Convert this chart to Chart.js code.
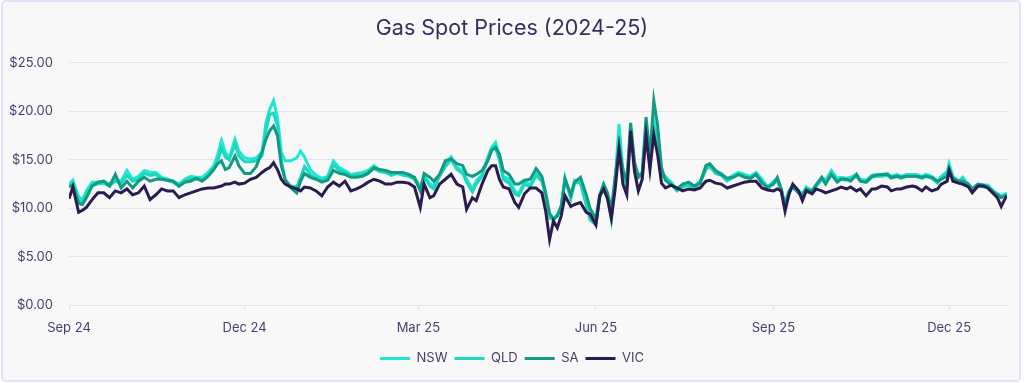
<!DOCTYPE html>
<html><head><meta charset="utf-8">
<script src="https://cdn.jsdelivr.net/npm/chart.js@4.4.1/dist/chart.umd.min.js"></script>
<style>
html,body{margin:0;padding:0;background:#ffffff;}
#frame{position:absolute;left:1px;top:0px;width:1016px;height:378px;border:2px solid #e6dff7;border-radius:5px;background:#f8f8f9;}
#wrap{position:absolute;left:0;top:0;width:1024px;height:383px;}
</style></head><body>
<div id="frame"></div>
<div id="wrap"><canvas id="c"></canvas></div>
<script>
// Day offsets from 1 Sep 2024
const days = [
0,2,5,7,9,12,15,18,21,24,27,30,33,36,39,42,45,48,51,54,57,60,63,66,69,72,75,77,79,81,83,
86,88,91,94,97,100,102,104,106,108,110,112,115,118,120,
122,125,128,131,134,137,140,143,146,149,152,155,158,161,164,167,170,173,176,179,
182,184,187,189,192,195,198,201,204,206,209,211,214,217,219,221,223,225,228,231,233,236,239,242,245,
247,249,251,253,255,257,260,262,265,268,270,273,275,277,279,281,283,285,287,289,291,293,295,297,299,301,303,305,307,309,
312,315,318,321,324,327,330,332,335,338,341,344,347,350,353,356,359,362,365,
367,369,371,373,375,378,380,382,385,387,390,392,395,398,400,403,405,408,410,413,
416,418,421,424,426,429,431,434,437,439,442,444,447,450,452,455,456,458,461,463,
466,468,471,474,476,479,481,483,485,486
];
const nsw = [
12.5,12.9,11.2,10.9,11.8,12.7,12.7,12.8,12.5,13.0,12.8,13.9,13.0,13.3,13.9,13.7,13.7,13.2,13.0,12.8,12.5,13.0,13.3,13.2,13.2,13.7,14.4,15.5,17.0,15.8,15.2,
17.1,15.9,15.2,15.1,15.2,15.8,18.8,20.2,21.1,19.4,15.8,14.9,14.9,15.2,15.9,
15.3,14.0,13.4,13.1,13.3,14.9,14.2,13.9,13.5,13.6,13.7,13.9,14.4,13.9,13.9,13.5,13.7,13.6,13.5,13.2,
12.2,13.4,12.5,12.3,13.5,14.6,15.3,14.2,13.9,13.0,12.0,12.8,13.5,15.3,16.3,16.8,15.4,13.3,13.0,11.8,11.5,12.8,12.5,13.6,13.0,
11.3,9.2,8.9,9.4,10.2,13.2,11.2,12.9,12.8,10.6,9.0,8.5,11.3,12.4,11.4,9.0,13.0,18.7,13.8,12.5,18.3,14.5,13.5,13.4,18.5,14.8,19.0,17.0,13.6,13.3,
12.7,12.0,12.4,12.6,12.3,12.8,14.2,14.5,13.8,13.6,13.0,13.4,13.7,13.5,13.3,13.7,13.0,12.2,12.8,
13.0,12.0,10.5,11.8,12.4,11.8,11.5,12.2,11.8,12.4,13.2,12.9,13.9,13.1,13.2,13.1,13.2,13.5,13.0,12.9,
13.4,13.5,13.5,13.6,13.3,13.5,13.3,13.5,13.5,13.5,13.3,13.5,13.3,12.8,13.3,13.8,14.6,13.3,12.8,13.2,
12.5,12.0,12.5,12.4,12.4,11.8,11.5,11.3,11.5,11.5
];
const qld = [
12.3,12.6,10.8,10.6,11.5,12.4,12.5,12.6,12.3,12.8,12.6,13.4,12.8,13.0,13.6,13.4,13.5,13.0,12.9,12.7,12.3,12.8,13.1,13.0,13.0,13.4,14.1,14.8,16.2,15.3,15.0,
16.6,15.4,14.8,14.8,14.9,15.4,18.0,19.7,19.8,18.5,15.0,12.9,12.3,12.2,13.2,
14.3,13.5,13.1,12.9,13.1,14.5,13.9,13.7,13.3,13.4,13.5,13.7,14.1,13.8,13.7,13.4,13.6,13.4,13.3,13.0,
12.0,13.2,12.3,12.0,13.3,14.3,15.0,14.0,13.6,12.7,11.7,12.5,13.3,15.0,16.0,16.2,15.0,13.0,12.6,11.5,11.3,12.5,12.2,13.4,12.8,
11.1,9.0,8.8,9.2,10.0,13.0,11.0,12.7,12.6,10.3,8.8,8.3,11.1,12.2,11.2,8.9,12.7,17.5,13.5,12.3,18.0,14.3,13.3,13.2,18.2,14.5,18.5,16.5,13.4,13.1,
12.5,11.8,12.2,12.4,12.1,12.6,14.0,14.3,13.6,13.4,12.8,13.2,13.5,13.3,13.1,13.5,12.8,12.0,12.6,
12.8,11.8,10.3,11.6,12.2,11.6,11.3,12.0,11.6,12.2,13.0,12.7,13.6,12.9,13.0,12.9,13.0,13.3,12.8,12.7,
13.2,13.3,13.3,13.4,13.1,13.3,13.1,13.3,13.3,13.3,13.1,13.3,13.1,12.6,13.1,13.6,14.2,13.1,12.6,13.0,
12.3,11.8,12.3,12.2,12.2,11.6,11.4,11.2,11.3,11.4
];
const sa = [
12.2,12.4,10.5,10.4,11.1,12.3,12.7,12.8,12.3,13.5,12.1,12.8,12.1,12.8,13.2,12.8,13.0,13.0,12.9,12.8,12.3,12.7,12.8,13.1,12.8,13.3,14.0,14.6,14.9,14.0,14.2,
15.4,14.4,13.6,13.6,14.3,15.8,17.1,18.0,18.5,17.5,14.4,13.0,12.1,11.6,12.8,
13.6,13.2,13.0,12.7,12.9,13.9,13.6,13.5,13.2,13.2,13.3,13.6,14.2,14.0,13.9,13.7,13.7,13.7,13.5,13.2,
11.8,13.6,13.2,12.8,13.5,14.9,15.1,14.6,14.4,13.5,13.3,13.5,13.9,14.9,16.0,16.3,15.6,13.9,13.5,12.5,12.5,12.9,13.0,14.1,13.3,
11.6,9.5,8.9,9.2,10.2,13.0,11.4,12.7,13.2,11.4,10.0,8.9,11.4,12.5,11.6,9.9,13.3,16.4,14.0,12.8,18.8,14.8,13.2,13.7,19.4,15.4,21.1,18.5,14.2,12.9,
12.4,12.0,12.5,12.7,12.3,12.6,14.4,14.6,13.9,13.5,13.1,13.2,13.5,13.2,13.1,13.5,12.6,12.2,12.5,
13.2,12.0,10.2,11.7,12.2,11.6,11.3,12.0,11.8,12.4,13.2,12.5,13.5,12.7,13.0,13.0,12.8,13.5,12.8,12.7,
13.3,13.4,13.5,13.5,13.2,13.3,13.2,13.3,13.3,13.3,13.2,13.3,13.2,12.8,13.0,13.3,14.1,13.1,12.8,12.8,
12.5,12.0,12.5,12.4,12.2,11.7,11.4,11.1,11.3,11.3
];
const vic = [
11.0,12.2,9.6,9.8,10.1,10.9,11.6,11.6,11.1,11.8,11.6,12.0,11.4,11.6,12.3,10.9,11.4,12.0,11.8,11.8,11.1,11.4,11.6,11.8,12.0,12.1,12.1,12.2,12.3,12.5,12.5,
12.7,12.5,12.6,13.0,13.2,13.7,14.0,14.2,14.7,14.0,13.0,12.5,12.2,12.0,11.8,
12.2,12.1,11.8,11.3,12.2,12.7,12.3,12.8,11.8,12.0,12.3,12.7,13.0,12.8,12.5,12.5,12.7,12.7,12.6,12.2,
10.1,12.5,11.1,11.3,12.5,13.0,13.5,12.5,12.2,9.9,11.1,10.8,12.5,13.9,14.4,14.4,13.0,12.2,12.0,10.6,10.1,11.5,12.1,12.1,11.6,
9.7,6.8,8.7,8.0,9.2,11.3,10.2,10.4,10.6,9.6,9.4,8.3,11.3,12.0,11.0,9.0,12.0,16.1,12.5,11.4,18.0,13.8,11.8,13.0,17.5,14.0,17.6,15.5,12.6,12.1,
12.4,12.1,11.8,12.0,11.9,12.1,12.8,12.9,12.6,12.5,12.1,12.3,12.5,12.7,12.8,12.8,12.1,11.9,11.8,
12.0,11.8,9.7,11.4,12.5,11.8,10.8,11.8,11.5,12.0,11.8,11.6,11.8,12.0,12.2,12.0,12.2,11.8,12.0,11.3,
12.0,12.0,12.3,12.2,11.8,12.0,12.0,12.2,12.3,12.2,11.8,12.2,11.8,12.0,12.5,12.8,13.9,12.8,12.6,12.5,
12.2,11.6,12.3,12.3,12.1,11.5,11.1,10.2,11.0,11.3
];
const seriesNames = ['NSW','QLD','SA','VIC'];
const seriesColors = ['#1ee8d4','#1bd8bd','#129a82','#2b1c4f'];
const tickDays = [0,91,181,273,365,456];
const tickLabels = ['Sep 24','Dec 24','Mar 25','Jun 25','Sep 25','Dec 25'];
const yTicks = [0,5,10,15,20,25];

const FONT = 'Inter, "Noto Sans", sans-serif';
const TEXT = '#4a3d6a';
const GRID = '#e6e0f7';

const seriesData = [nsw, qld, sa, vic];
const datasets = seriesData.map((arr, k) => ({
  label: seriesNames[k],
  data: days.map((d, i) => ({x: d, y: arr[i]})),
  borderColor: seriesColors[k],
  backgroundColor: seriesColors[k],
  borderWidth: 3,
  pointRadius: 0,
  tension: 0,
  fill: false,
  order: 4 - k
}));

new Chart(document.getElementById('c'), {
  type: 'line',
  data: {datasets},
  options: {
    responsive: true,
    maintainAspectRatio: false,
    animation: false,
    layout: {padding: {left: 0, right: 0, top: 0, bottom: 8}},
    plugins: {
      title: {
        display: true, text: 'Gas Spot Prices (2024-25)', color: '#3b2d5e',
        font: {family: FONT, size: 21.5, weight: 'normal'},
        padding: {top: 16, bottom: 21}
      },
      legend: {
        position: 'bottom',
        labels: {
          boxWidth: 30, boxHeight: 3, color: TEXT, padding: 7,
          font: {family: FONT, size: 13},
          sort: (a, b) => a.datasetIndex - b.datasetIndex,
          generateLabels: (chart) => Chart.defaults.plugins.legend.labels.generateLabels(chart).map(l => Object.assign(l, {lineWidth: 0}))
        }
      },
      tooltip: {enabled: false}
    },
    scales: {
      x: {
        type: 'linear', min: 0, max: 486,
        afterBuildTicks: (s) => { s.ticks = tickDays.map(v => ({value: v})); },
        afterFit: (s) => { s.height = s.height - 1; },
        ticks: {
          autoSkip: false, maxRotation: 0, color: TEXT, padding: 10,
          font: {family: FONT, size: 13},
          callback: (v) => tickLabels[tickDays.indexOf(v)]
        },
        grid: {drawOnChartArea: false, drawTicks: true, tickLength: 5, color: GRID},
        border: {display: true, color: GRID}
      },
      y: {
        min: 0, max: 25,
        afterBuildTicks: (s) => { s.ticks = yTicks.map(v => ({value: v})); },
        afterFit: (s) => { s.width = 69; },
        ticks: {
          color: TEXT, padding: 16, font: {family: FONT, size: 13},
          callback: (v) => '$' + Number(v).toFixed(2)
        },
        grid: {color: GRID, drawTicks: false, lineWidth: 1},
        border: {display: false}
      },
      yRight: {
        position: 'right', display: true,
        afterFit: (s) => { s.width = 17; },
        ticks: {display: false},
        grid: {display: false, drawTicks: false},
        border: {display: false}
      }
    }
  }
});
</script>
</body></html>
